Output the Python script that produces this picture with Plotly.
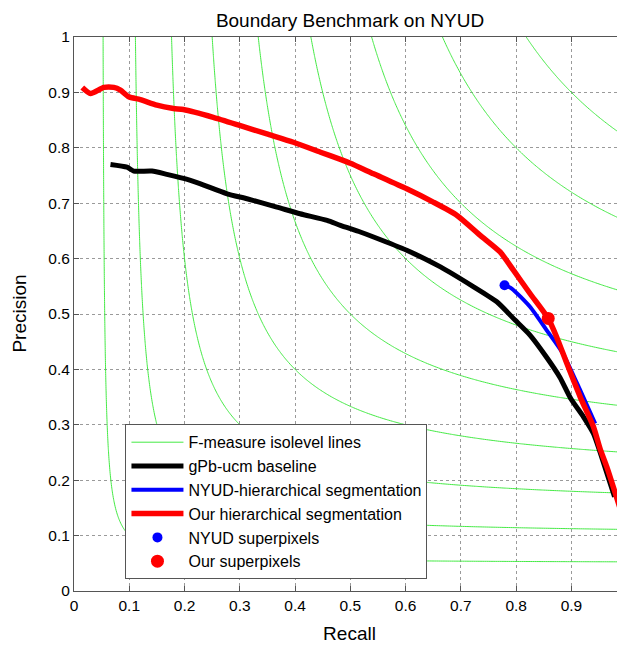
import numpy as np
import plotly.graph_objects as go

# F-measure isolevels
f_levels = [0.1, 0.2, 0.3, 0.4, 0.5, 0.6, 0.7, 0.8, 0.9]

# gPb-ucm baseline (recall, precision)
gpb_recall = [0.066, 0.096, 0.108, 0.141, 0.168, 0.205, 0.229, 0.277, 0.313, 0.367,
              0.409, 0.458, 0.482, 0.518, 0.542, 0.602, 0.663, 0.723, 0.765, 0.798,
              0.825, 0.855, 0.879, 0.899, 0.922, 0.940, 0.952, 0.978]
gpb_precision = [0.770, 0.765, 0.758, 0.758, 0.752, 0.743, 0.735, 0.717, 0.708, 0.693,
                 0.681, 0.669, 0.660, 0.648, 0.639, 0.615, 0.585, 0.549, 0.522, 0.489,
                 0.462, 0.422, 0.386, 0.347, 0.314, 0.284, 0.250, 0.170]

# NYUD hierarchical segmentation
nyud_recall = [0.779, 0.792, 0.825, 0.855, 0.885, 0.916, 0.943]
nyud_precision = [0.552, 0.546, 0.513, 0.471, 0.428, 0.362, 0.302]

# Our hierarchical segmentation
our_recall = [0.015, 0.03, 0.054, 0.072, 0.084, 0.099, 0.12, 0.15, 0.18, 0.198, 0.252,
              0.301, 0.349, 0.397, 0.446, 0.482, 0.5, 0.542, 0.602, 0.65, 0.693, 0.735,
              0.771, 0.795, 0.825, 0.858, 0.873, 0.892, 0.916, 0.94, 0.952, 0.964, 0.988]
our_precision = [0.909, 0.898, 0.909, 0.909, 0.904, 0.892, 0.887, 0.877, 0.871, 0.869, 0.855,
                 0.84, 0.825, 0.81, 0.792, 0.779, 0.772, 0.753, 0.726, 0.702, 0.678, 0.642,
                 0.612, 0.579, 0.537, 0.492, 0.459, 0.41, 0.35, 0.296, 0.256, 0.224, 0.149]

# Superpixel operating points
nyud_sp = (0.779, 0.552)
our_sp = (0.858, 0.492)

tick_vals = [0, 0.1, 0.2, 0.3, 0.4, 0.5, 0.6, 0.7, 0.8, 0.9, 1]
tick_text = ["0", "0.1", "0.2", "0.3", "0.4", "0.5", "0.6", "0.7", "0.8", "0.9", "1"]

FONT = "Liberation Sans, Arial, sans-serif"
GREEN = "#44ea44"

# F-measure field for contour lines
g = np.linspace(0.002, 1.0, 300)
R, P = np.meshgrid(g, g)
F = 2 * R * P / (R + P)

# page body has an 8px margin, so the figure is sized/offset to compensate
W, H = 617, 639
ML, MT, MB = 65.5, 28.7, 56.3

fig = go.Figure()
fig.add_trace(go.Contour(
    x=g, y=g, z=F,
    contours=dict(start=f_levels[0], end=f_levels[-1], size=0.1, coloring="none"),
    line=dict(color=GREEN, width=1),
    showscale=False, hoverinfo="skip", showlegend=False,
))
fig.add_trace(go.Scatter(x=[None], y=[None], mode="lines", name="F-measure isolevel lines",
                         line=dict(color=GREEN, width=1)))
fig.add_trace(go.Scatter(x=gpb_recall, y=gpb_precision, mode="lines", name="gPb-ucm baseline",
                         line=dict(color="black", width=5, shape="spline", smoothing=0.6)))
fig.add_trace(go.Scatter(x=nyud_recall, y=nyud_precision, mode="lines",
                         name="NYUD-hierarchical segmentation",
                         line=dict(color="#0000ff", width=4, shape="spline", smoothing=0.6)))
fig.add_trace(go.Scatter(x=our_recall, y=our_precision, mode="lines",
                         name="Our hierarchical segmentation",
                         line=dict(color="#ff0000", width=5.5, shape="spline", smoothing=0.6)))
fig.add_trace(go.Scatter(x=[nyud_sp[0]], y=[nyud_sp[1]], mode="markers", name="NYUD superpixels",
                         marker=dict(color="#0000ff", size=10)))
fig.add_trace(go.Scatter(x=[our_sp[0]], y=[our_sp[1]], mode="markers", name="Our superpixels",
                         marker=dict(color="#ff0000", size=13)))

axis_common = dict(
    tickvals=tick_vals, ticktext=tick_text,
    showgrid=True, gridcolor="#9a9a9a", griddash="dot", gridwidth=1,
    zeroline=False, showline=True, linecolor="#555555", linewidth=1,
    mirror="ticks", ticks="inside", ticklen=5, tickcolor="#555555",
    tickfont=dict(family=FONT, size=15.5, color="black"),
)

plot_w = W - ML
fig.update_layout(
    width=W, height=H,
    margin=dict(l=ML, r=0, t=MT, b=MB, autoexpand=False),
    paper_bgcolor="white", plot_bgcolor="white",
    title=dict(text="Boundary Benchmark on NYUD", x=342 / W, xanchor="center",
               y=1 - 12 / H, yanchor="middle", yref="container",
               font=dict(family=FONT, size=19, color="black")),
    xaxis=dict(range=[0, plot_w / 553.2], automargin=False,
               title=dict(text="Recall", standoff=14,
                          font=dict(family=FONT, size=19, color="black")), **axis_common),
    yaxis=dict(range=[0, 1], automargin=False, **axis_common),
    legend=dict(x=(125 - 8 - ML) / plot_w, y=(590.7 - 424) / 554, xanchor="left", yanchor="top",
                bgcolor="white", bordercolor="#555555", borderwidth=1,
                font=dict(family=FONT, size=16, color="black"),
                itemwidth=52),
    showlegend=True,
)

# y-axis title placed precisely
fig.add_annotation(x=(10 - ML) / plot_w, y=0.5, xref="paper", yref="paper",
                   xanchor="center", yanchor="middle", textangle=-90,
                   text="Precision", showarrow=False,
                   font=dict(family=FONT, size=19, color="black"))

fig.add_annotation(x=1, y=0, xref="x", yref="y", yshift=-14, text="1", showarrow=False,
                   font=dict(family=FONT, size=15.5, color="black"))

fig.write_html("out.html")
